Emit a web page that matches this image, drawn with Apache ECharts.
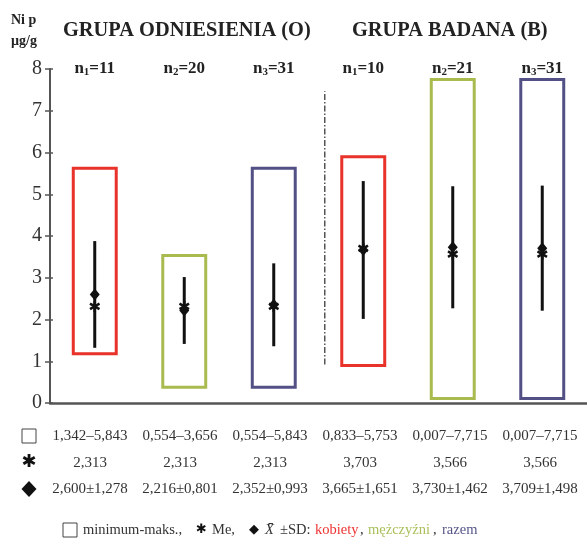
<!DOCTYPE html>
<html><head><meta charset="utf-8">
<script src="https://cdn.jsdelivr.net/npm/echarts@6/dist/echarts.min.js"></script>
<style>html,body{margin:0;padding:0;background:#fff}#c{width:587px;height:544px}</style>
</head><body><div id="c"></div>
<script>
// ---- data ----
const groupTitles = ['GRUPA ODNIESIENIA (O)', 'GRUPA BADANA (B)'];
const nSub = [1, 2, 3, 1, 2, 3];
const nVal = [11, 20, 31, 10, 21, 31];
// min-max boxes as drawn in the picture
const boxMin = [1.18, 0.38, 0.38, 0.90, 0.11, 0.11];
const boxMax = [5.62, 3.53, 5.62, 5.90, 7.75, 7.75];
// tabulated values
const rangeMin = ['1,342', '0,554', '0,554', '0,833', '0,007', '0,007'];
const rangeMax = ['5,843', '3,656', '5,843', '5,753', '7,715', '7,715'];
const medians = [2.313, 2.313, 2.313, 3.703, 3.566, 3.566];
const means = [2.600, 2.216, 2.352, 3.665, 3.730, 3.709];
const sds = [1.278, 0.801, 0.993, 1.651, 1.462, 1.498];
const boxColors = ['#e8322a', '#a9bb4f', '#525085', '#e8322a', '#a9bb4f', '#525085'];
const yMin = 0, yMax = 8, yStep = 1;
const dividerX = 3.07, dividerFrom = 0.92, dividerTo = 7.47;
const legendTexts = ['minimum-maks.,', '✱', 'Me,', '◆', 'X̄', '±SD:', 'kobiety', ',', 'mężczyźni', ',', 'razem'];

const fmt = v => v.toFixed(3).replace('.', ',');
const SERIF = 'Liberation Serif';

const chart = echarts.init(document.getElementById('c'));
const boxData = boxMin.map((v, i) => [i + 0.5, v, boxMax[i], means[i], sds[i], medians[i]]);

function renderBox(params, api) {
  const i = params.dataIndex;
  const x = api.value(0);
  const halfW = api.size([0.24, 0])[0];
  const top = api.coord([x, api.value(2)]);
  const bot = api.coord([x, api.value(1)]);
  const m = api.value(3), sd = api.value(4), med = api.value(5);
  const eT = api.coord([x, m + sd]), eB = api.coord([x, m - sd]);
  const pm = api.coord([x, m]), pmed = api.coord([x, med]);
  const cx = top[0];
  const arm = 5.5, c = Math.cos(Math.PI / 6) * arm, s = Math.sin(Math.PI / 6) * arm;
  const star = [[0, arm], [c, s], [c, -s]].map(d => ({
    type: 'line',
    shape: { x1: cx - d[0], y1: pmed[1] - d[1], x2: cx + d[0], y2: pmed[1] + d[1] },
    style: { stroke: '#111', lineWidth: 2.5 }
  }));
  return {
    type: 'group',
    children: [
      { type: 'rect', shape: { x: cx - halfW, y: top[1], width: 2 * halfW, height: bot[1] - top[1] },
        style: { fill: 'none', stroke: boxColors[i], lineWidth: 3 } },
      { type: 'line', shape: { x1: cx, y1: eT[1], x2: cx, y2: eB[1] }, style: { stroke: '#111', lineWidth: 3 } },
      ...star,
      { type: 'polygon', shape: { points: [[cx, pm[1] - 6], [cx + 5, pm[1]], [cx, pm[1] + 6], [cx - 5, pm[1]]] },
        style: { fill: '#111' } }
    ]
  };
}

const tableLabels = boxMin.map((_, i) => i);

// legend pieces layout
const legendX = [83, 196, 212, 249, 265, 280, 315, 360, 368, 433, 442];
const legendFont = ['14.5px "Liberation Serif"', 'bold 13px "DejaVu Sans"', '14.5px "Liberation Serif"', '13px "DejaVu Sans"',
  'italic 14.5px "Liberation Serif"', '14.5px "Liberation Serif"', '14.5px "Liberation Serif"', '14.5px "Liberation Serif"',
  '14.5px "Liberation Serif"', '14.5px "Liberation Serif"', '14.5px "Liberation Serif"'];
const legendFill = ['#333', '#111', '#333', '#111', '#333', '#333', '#ee3333', '#333', '#a9c05a', '#333', '#55558a'];
const legendGraphics = legendTexts.map((t, i) => ({
  type: 'text', style: { text: t, x: legendX[i], y: 530, font: legendFont[i], fill: legendFill[i], textVerticalAlign: 'middle' }
}));

chart.setOption({
  animation: false,
  backgroundColor: '#fff',
  graphic: [
    { type: 'text', style: { text: groupTitles[0], x: 63, y: 31, font: 'bold 20.4px "Liberation Serif"', fill: '#222', textVerticalAlign: 'middle' } },
    { type: 'text', style: { text: groupTitles[1], x: 352, y: 31, font: 'bold 20.4px "Liberation Serif"', fill: '#222', textVerticalAlign: 'middle' } },
    { type: 'text', style: { text: 'Ni p', x: 11, y: 20, font: 'bold 14px "Liberation Serif"', fill: '#222', textVerticalAlign: 'middle' } },
    { type: 'text', style: { text: 'µg/g', x: 11, y: 41, font: 'bold 14px "Liberation Serif"', fill: '#222', textVerticalAlign: 'middle' } },
    { type: 'rect', shape: { x: 22, y: 429, width: 14, height: 14 }, style: { fill: '#fff', stroke: '#444', lineWidth: 1 } },
    { type: 'text', style: { text: '✱', x: 29, y: 462, font: 'bold 18px "DejaVu Sans"', fill: '#111', textAlign: 'center', textVerticalAlign: 'middle' } },
    { type: 'polygon', shape: { points: [[29, 481], [36.5, 489], [29, 497], [21.5, 489]] }, style: { fill: '#111' } },
    { type: 'rect', shape: { x: 63, y: 523, width: 14, height: 14 }, style: { fill: '#fff', stroke: '#444', lineWidth: 1 } },
    ...legendGraphics
  ],
  grid: [
    { left: 50, top: 69, width: 540, height: 334 },
    { left: 45, top: 69, width: 540, height: 334 }
  ],
  xAxis: [
    { type: 'value', gridIndex: 0, min: 0, max: 6, axisLine: { show: true, lineStyle: { color: '#555', width: 2.5 } },
      axisTick: { show: false }, axisLabel: { show: false }, splitLine: { show: false } },
    { type: 'category', gridIndex: 0, position: 'top', data: nVal.map((v, i) => i),
      axisLine: { show: false }, axisTick: { show: false },
      axisLabel: {
        interval: 0, margin: -9,
        formatter: (v, i) => '{b|n}{s|' + nSub[i] + '}{b|=' + nVal[i] + '}',
        rich: {
          b: { fontFamily: SERIF, fontWeight: 'bold', fontSize: 17, color: '#222' },
          s: { fontFamily: SERIF, fontWeight: 'bold', fontSize: 11, color: '#222', padding: [8, 0, 0, 0] }
        }
      } },
    { type: 'category', gridIndex: 1, data: tableLabels,
      axisLine: { show: false }, axisTick: { show: false },
      axisLabel: {
        interval: 0, margin: 20, lineHeight: 26.5,
        fontFamily: SERIF, fontSize: 15, color: '#333',
        formatter: (v, i) => rangeMin[i] + '–' + rangeMax[i] + '\n' + fmt(medians[i]) + '\n' + fmt(means[i]) + '±' + fmt(sds[i])
      } }
  ],
  yAxis: [
    { type: 'value', gridIndex: 0, min: yMin, max: yMax, interval: yStep,
      axisLine: { show: true, lineStyle: { color: '#555', width: 2 } },
      axisTick: { show: true, length: 5, lineStyle: { color: '#555', width: 1.5 } },
      axisLabel: { margin: 8, fontFamily: SERIF, fontSize: 20, color: '#333' },
      splitLine: { show: false } },
    { type: 'value', gridIndex: 0, position: 'left', min: yMin, max: yMax, interval: yStep,
      axisLine: { show: false }, axisTick: { show: true, inside: true, length: 3, lineStyle: { color: '#555', width: 1.5 } },
      axisLabel: { show: false }, splitLine: { show: false } },
    { type: 'value', gridIndex: 1, min: yMin, max: yMax, show: false }
  ],
  series: [
    { type: 'custom', xAxisIndex: 0, yAxisIndex: 0, data: boxData, renderItem: renderBox, encode: { x: 0, y: [1, 2] }, z: 5 },
    { type: 'line', xAxisIndex: 0, yAxisIndex: 0, data: [[dividerX, dividerFrom], [dividerX, dividerTo]],
      symbol: 'none', lineStyle: { color: '#555', width: 1.5, type: [6, 2, 1.5, 2] } }
  ]
});
</script></body></html>
